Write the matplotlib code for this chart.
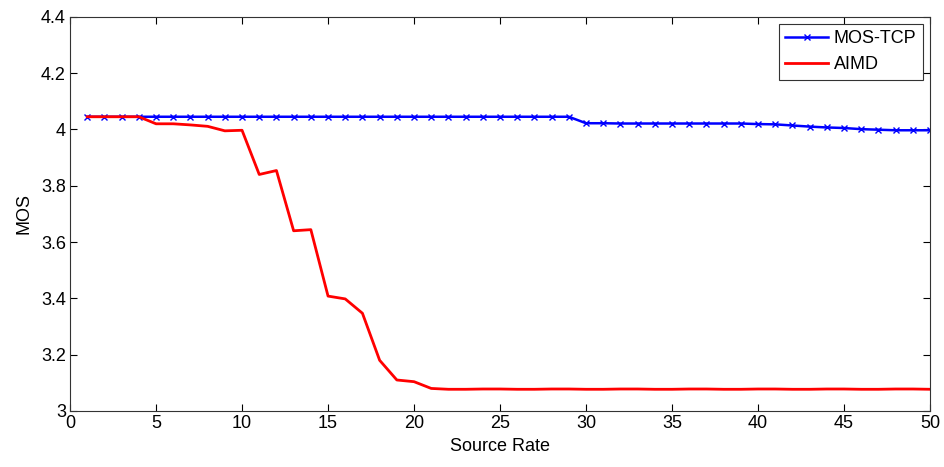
import numpy as np
import matplotlib.pyplot as plt

plt.rcParams['font.family'] = ['Liberation Sans', 'DejaVu Sans']

rate = np.arange(1, 51)

mos_tcp = [4.045] * 29 + [4.022, 4.022, 4.021, 4.021, 4.021, 4.021, 4.021, 4.021, 4.021, 4.021,
                          4.019, 4.018, 4.014, 4.010, 4.007, 4.005, 4.001, 3.999, 3.997, 3.997, 3.997]

aimd = [4.045, 4.045, 4.045, 4.045, 4.020, 4.020, 4.016, 4.011, 3.995, 3.997,
        3.840, 3.854, 3.640, 3.644, 3.408, 3.398, 3.347, 3.180, 3.110, 3.104,
        3.080, 3.077, 3.077, 3.078, 3.078, 3.077, 3.077, 3.078, 3.078, 3.077,
        3.077, 3.078, 3.078, 3.077, 3.077, 3.078, 3.078, 3.077, 3.077, 3.078,
        3.078, 3.077, 3.077, 3.078, 3.078, 3.077, 3.077, 3.078, 3.078, 3.077]

fig = plt.figure(figsize=(9.44, 4.67), dpi=100)
ax = fig.add_axes([0.0742, 0.12, 0.911, 0.844])

ax.plot(rate, mos_tcp, '-x', color='blue', linewidth=1.8, markersize=4,
        markeredgewidth=1, label='MOS-TCP')
ax.plot(rate, aimd, '-', color='red', linewidth=2, label='AIMD')

ax.set_xlim(0, 50)
ax.set_ylim(3, 4.4)
ax.set_xticks(np.arange(0, 51, 5))
ax.set_yticks([3, 3.2, 3.4, 3.6, 3.8, 4, 4.2, 4.4])
ax.set_yticklabels(['3', '3.2', '3.4', '3.6', '3.8', '4', '4.2', '4.4'])
ax.tick_params(direction='in', top=True, right=True, length=5, labelsize=13, pad=3)
for s in ax.spines.values():
    s.set_color('#333333')
    s.set_linewidth(0.8)

ax.set_xlabel('Source Rate', fontsize=13, labelpad=4)
ax.set_ylabel('MOS', fontsize=13, labelpad=6)

leg = ax.legend(loc='upper right', fontsize=13, fancybox=False, framealpha=1,
                edgecolor='#333333', borderpad=0.35, handlelength=2.4,
                handletextpad=0.3, labelspacing=0.5, borderaxespad=0.4)
leg.get_frame().set_linewidth(0.8)

plt.savefig('out.png', dpi=100)
plt.close()
